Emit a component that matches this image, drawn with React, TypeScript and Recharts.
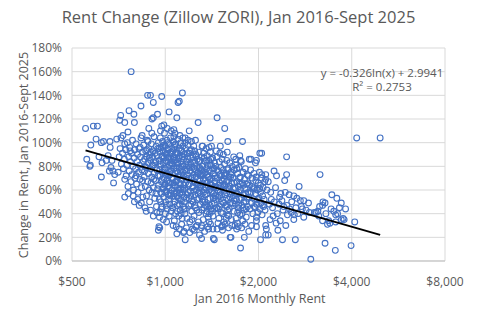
import { ScatterChart, Scatter, XAxis, YAxis, CartesianGrid } from 'recharts';

// [Jan 2016 rent ($), change to Sept 2025 (%)], grouped by rent band
const under700: [number, number][] = [
  [553, 112], [586, 114], [604, 114], [598, 103], [632, 101], [663, 101], [575, 98], [558, 86],
  [571, 80], [611, 88], [645, 85], [673, 85], [668, 79], [622, 71], [660, 76], [677, 76],
  [681, 66], [664, 96], [654, 89], [625, 83], [687, 73], [573, 81], [622, 100], [697, 103],
];

const rent700to850: [number, number][] = [
  [713, 119], [718, 123], [740, 117], [764, 127], [792, 124], [795, 117], [758, 109], [776, 160],
  [720, 104], [740, 99], [835, 131], [842, 106], [730, 106],
  [705, 75], [740, 69], [740, 54], [788, 55], [824, 47], [837, 49], [710, 88], [715, 95],
  [722, 82], [728, 91], [733, 78], [738, 86], [745, 94], [748, 72], [752, 81], [755, 100],
  [758, 63], [762, 88], [765, 76], [768, 96], [772, 84], [775, 67], [778, 91], [781, 73],
  [784, 102], [787, 80], [790, 60], [793, 87], [796, 94], [799, 70], [802, 78], [805, 99],
  [808, 65], [811, 84], [814, 90], [817, 58], [820, 75], [823, 95], [826, 81], [829, 69],
  [832, 88], [835, 104], [838, 62], [841, 77], [844, 92], [847, 54], [850, 84], [760, 57],
  [795, 50], [815, 52], [770, 93], [805, 72], [830, 96], [845, 68],
];

const rent850to950: [number, number][] = [
  [877, 140], [896, 140], [915, 134], [906, 120], [915, 121], [944, 124], [885, 112],
  [852, 98], [855, 71], [858, 86], [860, 45], [862, 63], [865, 93], [867, 79], [870, 55],
  [872, 88], [875, 102], [877, 67], [880, 83], [882, 74], [885, 95], [887, 60], [890, 50],
  [892, 90], [895, 78], [897, 85], [900, 66], [902, 99], [905, 71], [907, 58], [910, 88],
  [912, 93], [915, 62], [917, 81], [920, 105], [922, 74], [925, 53], [927, 91], [930, 68],
  [932, 84], [935, 97], [937, 46], [940, 77], [942, 89], [945, 61], [947, 72], [950, 100],
  [868, 42], [896, 43], [915, 38], [940, 41], [880, 101], [905, 108], [860, 80], [925, 83],
  [900, 92], [945, 95], [858, 76], [888, 87], [918, 69], [933, 57], [871, 94], [908, 81],
];

const rent950to1050: [number, number][] = [
  [974, 139], [974, 114], [1029, 126], [960, 41], [1001, 40], [954, 29], [950, 26], [960, 28],
  [952, 64], [955, 85], [957, 52], [960, 92], [962, 72], [964, 104], [966, 58], [968, 80],
  [970, 96], [972, 67], [974, 88], [976, 46], [978, 75], [980, 101], [982, 61], [984, 83],
  [986, 93], [988, 54], [990, 70], [992, 87], [994, 108], [996, 64], [998, 78], [1000, 97],
  [1002, 50], [1004, 73], [1006, 90], [1008, 59], [1010, 84], [1012, 102], [1014, 68], [1016, 44],
  [1018, 79], [1020, 94], [1022, 56], [1024, 87], [1026, 72], [1028, 99], [1030, 62], [1032, 81],
  [1034, 48], [1036, 91], [1038, 66], [1040, 104], [1042, 76], [1044, 57], [1046, 86], [1048, 70],
  [1050, 95], [958, 37], [985, 35], [1010, 33], [1030, 38], [1045, 42], [965, 110], [990, 115],
  [1015, 112], [1045, 110], [970, 44], [1000, 65], [1025, 52], [980, 89], [1040, 83], [960, 77],
  [1020, 63], [1005, 85], [975, 57], [995, 98], [1035, 73], [1012, 91],
  [963, 82], [977, 69], [993, 77], [1008, 47], [1021, 88], [1037, 55], [1049, 80], [967, 50],
  [983, 96], [997, 58], [1011, 74], [1027, 66], [1043, 92], [956, 95], [989, 62], [1017, 100],
];

const rent1050to1150: [number, number][] = [
  [1066, 111], [1066, 105], [1090, 121], [1100, 134], [1110, 135], [1136, 142], [1090, 23],
  [1070, 34], [1145, 24], [1150, 25], [1160, 18],
  [1052, 60], [1054, 82], [1056, 45], [1058, 93], [1060, 70], [1062, 101], [1064, 55], [1066, 78],
  [1068, 88], [1070, 64], [1072, 96], [1074, 50], [1076, 74], [1078, 85], [1080, 40], [1082, 99],
  [1084, 67], [1086, 58], [1088, 91], [1090, 76], [1092, 47], [1094, 83], [1096, 62], [1098, 103],
  [1100, 71], [1102, 53], [1104, 87], [1106, 38], [1108, 79], [1110, 95], [1112, 66], [1114, 57],
  [1116, 89], [1118, 43], [1120, 73], [1122, 100], [1124, 61], [1126, 84], [1128, 51], [1130, 93],
  [1132, 69], [1134, 36], [1136, 80], [1138, 58], [1140, 97], [1142, 75], [1144, 46], [1146, 86],
  [1148, 64], [1150, 54], [1060, 30], [1085, 29], [1110, 27], [1130, 31], [1075, 108], [1115, 106],
  [1140, 104], [1095, 42], [1125, 40], [1058, 66], [1080, 90], [1105, 60], [1135, 88], [1065, 48],
  [1090, 68], [1120, 52], [1145, 72], [1070, 85], [1100, 82], [1128, 77],
  [1055, 74], [1068, 57], [1083, 79], [1097, 91], [1112, 48], [1127, 69], [1141, 60], [1062, 87],
  [1077, 63], [1093, 55], [1108, 72], [1123, 94], [1138, 82], [1149, 44], [1073, 98], [1118, 65],
];

const rent1150to1300: [number, number][] = [
  [1158, 100], [1195, 110], [1252, 102], [1277, 117], [1240, 26], [1290, 22],
  [1152, 90], [1155, 61], [1158, 77], [1161, 44], [1164, 95], [1167, 69], [1170, 53], [1173, 84],
  [1176, 36], [1179, 73], [1182, 98], [1185, 58], [1188, 81], [1191, 47], [1194, 91], [1197, 65],
  [1200, 33], [1203, 76], [1206, 87], [1209, 55], [1212, 70], [1215, 94], [1218, 42], [1221, 79],
  [1224, 62], [1227, 88], [1230, 50], [1233, 73], [1236, 97], [1239, 38], [1242, 67], [1245, 83],
  [1248, 56], [1251, 45], [1254, 90], [1257, 71], [1260, 60], [1263, 80], [1266, 30], [1269, 86],
  [1272, 52], [1275, 75], [1278, 64], [1281, 92], [1284, 41], [1287, 78], [1290, 58], [1293, 69],
  [1296, 85], [1299, 48], [1160, 104], [1185, 102], [1215, 101], [1170, 28], [1200, 24], [1225, 27],
  [1255, 29], [1280, 33], [1165, 82], [1190, 70], [1210, 48], [1230, 85], [1250, 66], [1270, 74],
  [1295, 62], [1175, 56], [1205, 59], [1240, 78], [1265, 43], [1180, 88], [1220, 35], [1285, 53],
  [1158, 40], [1245, 93], [1195, 79],
  [1163, 66], [1178, 91], [1193, 53], [1208, 82], [1223, 71], [1238, 59], [1253, 77], [1268, 65],
  [1283, 84], [1298, 73], [1171, 76], [1186, 64], [1201, 93], [1216, 51], [1231, 63], [1246, 47],
  [1261, 89], [1276, 57], [1291, 79], [1154, 50],
];

const rent1300to1450: [number, number][] = [
  [1320, 97], [1396, 104], [1410, 97], [1430, 19], [1440, 18], [1380, 27], [1310, 30], [1310, 19],
  [1302, 72], [1306, 55], [1310, 88], [1314, 43], [1318, 66], [1322, 80], [1326, 35], [1330, 91],
  [1334, 60], [1338, 74], [1342, 50], [1346, 84], [1350, 68], [1354, 40], [1358, 78], [1362, 57],
  [1366, 89], [1370, 46], [1374, 71], [1378, 63], [1382, 85], [1386, 33], [1390, 76], [1394, 53],
  [1398, 92], [1402, 65], [1406, 44], [1410, 81], [1414, 70], [1418, 58], [1422, 87], [1426, 38],
  [1430, 74], [1434, 62], [1438, 49], [1442, 83], [1446, 67], [1450, 55], [1308, 28], [1340, 25],
  [1372, 29], [1400, 31], [1425, 27], [1315, 97], [1355, 95], [1385, 96], [1330, 58], [1365, 73],
  [1395, 81], [1420, 42], [1345, 62], [1376, 37], [1408, 59], [1436, 78], [1320, 50], [1360, 85],
  [1312, 77], [1328, 69], [1344, 56], [1361, 66], [1378, 52], [1392, 69], [1404, 86], [1416, 48],
  [1432, 57], [1448, 72], [1336, 87], [1352, 47], [1368, 81], [1388, 60], [1444, 63],
  [1304, 64], [1317, 52], [1332, 45], [1348, 75], [1363, 42], [1381, 71], [1397, 47], [1412, 64],
  [1428, 53], [1443, 44], [1325, 73], [1357, 62], [1389, 40], [1421, 78],
];

const rent1450to1650: [number, number][] = [
  [1470, 121], [1556, 112], [1506, 97], [1585, 92], [1592, 101], [1530, 26], [1530, 30], [1470, 27],
  [1620, 20], [1630, 20],
  [1455, 80], [1460, 62], [1465, 45], [1470, 88], [1475, 70], [1480, 54], [1485, 76], [1490, 36],
  [1495, 84], [1500, 66], [1505, 58], [1510, 79], [1515, 41], [1520, 72], [1525, 86], [1530, 50],
  [1535, 64], [1540, 77], [1545, 33], [1550, 69], [1555, 82], [1560, 56], [1565, 47], [1570, 74],
  [1575, 61], [1580, 85], [1585, 39], [1590, 68], [1595, 78], [1600, 52], [1605, 71], [1610, 44],
  [1615, 83], [1620, 63], [1625, 57], [1630, 75], [1635, 35], [1640, 66], [1645, 80], [1650, 49],
  [1462, 93], [1500, 91], [1540, 90], [1480, 32], [1520, 29], [1560, 31], [1600, 28], [1640, 30],
  [1475, 60], [1510, 48], [1550, 59], [1590, 43], [1625, 71], [1495, 73], [1575, 67],
  [1458, 52], [1488, 64], [1518, 56], [1548, 74], [1578, 53], [1608, 61], [1638, 73], [1468, 77],
  [1498, 46], [1528, 68], [1558, 64], [1588, 77], [1618, 54],
  [1453, 70], [1483, 44], [1513, 63], [1543, 49], [1563, 72], [1583, 46], [1603, 38], [1623, 49],
  [1643, 58], [1493, 55], [1533, 40], [1573, 36],
];

const rent1650to1850: [number, number][] = [
  [1663, 88], [1750, 85], [1776, 101], [1750, 11], [1800, 20], [1700, 27], [1710, 32],
  [1655, 70], [1660, 55], [1665, 42], [1670, 77], [1676, 62], [1682, 48], [1688, 81], [1694, 36],
  [1700, 67], [1706, 57], [1712, 74], [1718, 45], [1724, 63], [1730, 79], [1736, 52], [1742, 39],
  [1748, 71], [1754, 60], [1760, 84], [1766, 47], [1772, 66], [1778, 34], [1784, 75], [1790, 56],
  [1796, 43], [1802, 69], [1808, 61], [1814, 78], [1820, 50], [1826, 37], [1832, 65], [1838, 73],
  [1844, 46], [1850, 58], [1680, 30], [1720, 29], [1765, 28], [1810, 31], [1690, 86], [1740, 89],
  [1668, 66], [1698, 52], [1728, 58], [1758, 53], [1788, 64], [1818, 57], [1703, 78], [1745, 65],
  [1658, 61], [1685, 57], [1713, 41], [1739, 70], [1769, 40], [1795, 50], [1823, 44], [1848, 66],
  [1673, 51], [1726, 47], [1782, 45], [1835, 53],
];

const rent1850to2100: [number, number][] = [
  [1868, 86], [1890, 86], [1955, 83], [1970, 85], [2020, 91], [2048, 91], [1960, 68], [2030, 64],
  [1940, 61], [1970, 37], [1970, 34], [1970, 29], [1900, 30], [1860, 25], [2030, 18],
  [1855, 72], [1862, 54], [1870, 64], [1878, 44], [1886, 77], [1894, 58], [1902, 49], [1910, 70],
  [1918, 40], [1926, 62], [1934, 74], [1942, 52], [1950, 45], [1958, 57], [1966, 71], [1974, 48],
  [1982, 60], [1990, 41], [1998, 66], [2006, 53], [2014, 75], [2022, 44], [2030, 58], [2038, 49],
  [2046, 70], [2054, 39], [2062, 55], [2070, 62], [2078, 46], [2086, 52], [2094, 67], [2100, 43],
  [1874, 57], [1906, 63], [1938, 46], [1985, 52], [2018, 61], [2058, 47],
];

const rent2100to3000: [number, number][] = [
  [2245, 76], [2287, 72], [2465, 73], [2430, 68], [2705, 63], [2110, 69], [2110, 73], [2050, 73],
  [2150, 67], [2200, 52], [2250, 50], [2360, 57], [2340, 54], [2410, 46], [2400, 43], [2480, 39],
  [2600, 35], [2680, 40], [2800, 37], [2510, 56], [2600, 55], [2730, 51], [2800, 51], [2610, 39],
  [2550, 41], [2770, 44], [2310, 26], [2150, 22], [2110, 22], [2110, 30], [2120, 27], [2390, 18],
  [2630, 18], [2950, 1.5], [2465, 88], [2130, 60], [2170, 48], [2190, 58], [2220, 45], [2270, 62],
  [2300, 40], [2330, 48], [2380, 51], [2440, 58], [2470, 47], [2520, 44], [2560, 50], [2640, 45],
  [2660, 53], [2750, 46], [2850, 43], [2900, 49], [2180, 35], [2280, 32], [2230, 38], [2350, 34],
  [2450, 30], [2920, 41],
];

const over3000: [number, number][] = [
  [3160, 73], [4150, 104], [4940, 104], [3450, 56], [3580, 53], [3700, 49], [3820, 44], [3230, 50],
  [3150, 46], [3430, 44], [3070, 41], [3030, 41], [3550, 39], [3700, 35], [3750, 36], [4090, 33],
  [3400, 32], [3340, 31], [3220, 34], [3280, 15], [3540, 9], [3980, 13], [3110, 42], [3220, 47],
  [3280, 49], [3370, 34], [3550, 33], [3600, 40], [3780, 35], [3130, 38], [3500, 42], [3650, 45],
  [3300, 40],
];

// log trendline from Excel: y = -0.326ln(x) + 2.9941, drawn between its end points
const trendLine = [
  { rent: 553, change: 93.5 },
  { rent: 4940, change: 22.1 },
];

const xTicks = [500, 1000, 2000, 4000, 8000];
const yTicks = [0, 20, 40, 60, 80, 100, 120, 140, 160, 180];

const points = [
  ...under700, ...rent700to850, ...rent850to950, ...rent950to1050, ...rent1050to1150,
  ...rent1150to1300, ...rent1300to1450, ...rent1450to1650, ...rent1650to1850,
  ...rent1850to2100, ...rent2100to3000, ...over3000,
].map(([rent, change]) => ({ rent, change }));

const font = '"Open Sans", sans-serif';
const grey = '#595959';

const Ring = (props: any) => (
  <circle cx={props.cx} cy={props.cy} r={2.9} fill="none" stroke="#4472C4" strokeWidth={1.1} />
);

export default function App() {
  return (
    <div style={{ position: 'absolute', left: 0, top: 0, width: 477, height: 321, background: '#fff', fontFamily: font }}>
      <div style={{ position: 'absolute', left: 0, top: 5, width: 477, textAlign: 'center', fontSize: 16.5, color: grey }}>
        Rent Change (Zillow ZORI), Jan 2016-Sept 2025
      </div>
      <ScatterChart width={477} height={321} margin={{ top: 48, right: 32, bottom: 30, left: 0 }}>
        <CartesianGrid stroke="#D9D9D9" />
        <XAxis
          dataKey="rent"
          type="number"
          scale="log"
          domain={[500, 8000]}
          ticks={xTicks}
          tickFormatter={(v: number) => `$${v.toLocaleString('en-US')}`}
          tickLine={false}
          axisLine={{ stroke: '#BFBFBF' }}
          tick={{ fill: grey, fontSize: 12, fontFamily: font }}
          tickMargin={10}
          height={30}
          allowDataOverflow
        />
        <YAxis
          dataKey="change"
          type="number"
          domain={[0, 180]}
          ticks={yTicks}
          tickFormatter={(v: number) => `${v}%`}
          tickLine={false}
          axisLine={false}
          tick={{ fill: grey, fontSize: 12, fontFamily: font }}
          width={72}
          tickMargin={4}
        />
        <Scatter data={points} shape={Ring} isAnimationActive={false} />
        <Scatter
          data={trendLine}
          line={{ stroke: '#000', strokeWidth: 2 }}
          shape={() => <g />}
          isAnimationActive={false}
        />
      </ScatterChart>
      <div style={{ position: 'absolute', left: 310, top: 66, width: 144, textAlign: 'center', fontSize: 11.5, lineHeight: '14px', color: grey }}>
        y = -0.326ln(x) + 2.9941
        <br />
        R² = 0.2753
      </div>
      <div style={{ position: 'absolute', left: 150, top: 290, width: 220, textAlign: 'center', fontSize: 12.5, color: grey }}>
        Jan 2016 Monthly Rent
      </div>
      <div
        style={{
          position: 'absolute', left: 24 - 130, top: 155 - 9, width: 260, textAlign: 'center',
          fontSize: 12.5, color: grey, transform: 'rotate(-90deg)', transformOrigin: '130px 9px',
        }}
      >
        Change in Rent, Jan 2016-Sept 2025
      </div>
    </div>
  );
}
